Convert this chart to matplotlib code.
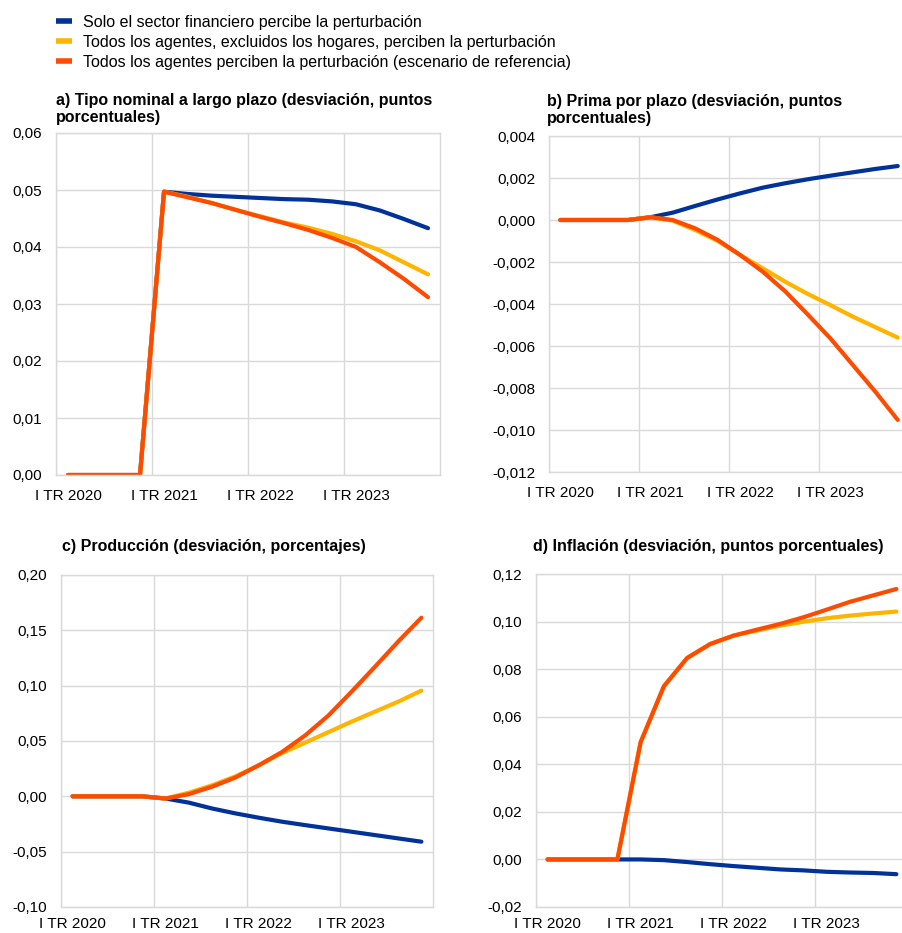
import matplotlib
matplotlib.use("Agg")
import matplotlib.pyplot as plt
from matplotlib.lines import Line2D
from matplotlib.ticker import FuncFormatter

plt.rcParams["font.family"] = ["Liberation Sans", "DejaVu Sans"]
plt.rcParams["font.size"] = 11

# Quarterly horizon: 2020 Q1 .. 2023 Q4
quarters = list(range(16))
year_labels = ["I TR 2020", "I TR 2021", "I TR 2022", "I TR 2023"]

series_names = [
    "Solo el sector financiero percibe la perturbación",
    "Todos los agentes, excluidos los hogares, perciben la perturbación",
    "Todos los agentes perciben la perturbación (escenario de referencia)",
]
colors = ["#003299", "#FFB400", "#FF4B00"]

# a) long-term nominal rate
rate_fin = [0, 0, 0, 0, 0.0497, 0.0493, 0.0490, 0.0488, 0.0486, 0.0484,
            0.0483, 0.0480, 0.0475, 0.0464, 0.0449, 0.0433]
rate_exh = [0, 0, 0, 0, 0.0497, 0.0488, 0.0477, 0.0465, 0.0454, 0.0443,
            0.0434, 0.0423, 0.0410, 0.0394, 0.0373, 0.0352]
rate_all = [0, 0, 0, 0, 0.0497, 0.0487, 0.0477, 0.0465, 0.0453, 0.0442,
            0.0430, 0.0416, 0.0400, 0.0373, 0.0344, 0.0312]

# b) term premium
prem_fin = [0, 0, 0, 0, 0.00013, 0.00035, 0.00067, 0.00098, 0.00127, 0.00154,
            0.00175, 0.00194, 0.00211, 0.00227, 0.00243, 0.00257]
prem_exh = [0, 0, 0, 0, 0.00013, -0.00003, -0.00048, -0.00100, -0.00167, -0.00230,
            -0.00294, -0.00352, -0.00405, -0.00460, -0.00510, -0.00560]
prem_all = [0, 0, 0, 0, 0.00013, 0.0, -0.00040, -0.00095, -0.00167, -0.00246,
            -0.00340, -0.00450, -0.00563, -0.00690, -0.00817, -0.00952]

# c) output
out_fin = [0, 0, 0, 0, -0.002, -0.0057, -0.011, -0.0154, -0.0193, -0.0229,
           -0.026, -0.029, -0.032, -0.035, -0.038, -0.041]
out_exh = [0, 0, 0, 0, -0.002, 0.0033, 0.010, 0.018, 0.028, 0.039,
           0.0485, 0.058, 0.0675, 0.0765, 0.0855, 0.0955]
out_all = [0, 0, 0, 0, -0.002, 0.002, 0.0087, 0.017, 0.028, 0.040,
           0.055, 0.073, 0.0946, 0.117, 0.1398, 0.1614]

# d) inflation
inf_fin = [0, 0, 0, 0, 0.0, -0.0003, -0.0011, -0.002, -0.0028, -0.0035,
           -0.0042, -0.0046, -0.0052, -0.0055, -0.0057, -0.0062]
inf_exh = [0, 0, 0, 0, 0.0493, 0.0728, 0.0847, 0.0906, 0.0941, 0.0962,
           0.0983, 0.0999, 0.1014, 0.1025, 0.1034, 0.1042]
inf_all = [0, 0, 0, 0, 0.0493, 0.0728, 0.0847, 0.0906, 0.0941, 0.0966,
           0.0990, 0.1018, 0.1050, 0.1083, 0.1110, 0.1137]

panels = [
    dict(title="a) Tipo nominal a largo plazo (desviación, puntos\nporcentuales)",
         data=[rate_fin, rate_exh, rate_all], ylim=(0, 0.06), step=0.01, dec=2,
         pos=[56, 133, 440, 475], title_xy=(56, 109), xpad=10),
    dict(title="b) Prima por plazo (desviación, puntos\nporcentuales)",
         data=[prem_fin, prem_exh, prem_all], ylim=(-0.012, 0.004), step=0.002, dec=3,
         pos=[549, 136, 909, 472], title_xy=(547, 110), xpad=10),
    dict(title="c) Producción (desviación, porcentajes)",
         data=[out_fin, out_exh, out_all], ylim=(-0.10, 0.20), step=0.05, dec=2,
         pos=[61, 575, 433, 907], title_xy=(62, 546), xpad=7),
    dict(title="d) Inflación (desviación, puntos porcentuales)",
         data=[inf_fin, inf_exh, inf_all], ylim=(-0.02, 0.12), step=0.02, dec=2,
         pos=[536, 574, 908, 907], title_xy=(533, 546), xpad=7),
]


def comma_fmt(dec):
    def fmt(v, _):
        if abs(v) < 1e-12:
            v = 0.0
        return f"{v:.{dec}f}".replace(".", ",")
    return FuncFormatter(fmt)


W, H = 903, 933
fig = plt.figure(figsize=(W / 100, H / 100), dpi=100)

for p in panels:
    x0, y0, x1, y1 = p["pos"]
    ax = fig.add_axes([x0 / W, 1 - y1 / H, (x1 - x0) / W, (y1 - y0) / H])
    # reference scenario is drawn last so it sits on top
    for vals, c in zip(p["data"], colors):
        ax.plot(quarters, vals, color=c, lw=3.0, solid_capstyle="round",
                solid_joinstyle="round")
    lo, hi = p["ylim"]
    ax.set_ylim(lo, hi)
    ax.set_xlim(-0.5, 15.5)
    n = int(round((hi - lo) / p["step"]))
    ax.set_yticks([lo + i * p["step"] for i in range(n + 1)])
    ax.yaxis.set_major_formatter(comma_fmt(p["dec"]))
    ax.set_xticks([0, 4, 8, 12])
    ax.set_xticklabels(year_labels)
    ax.set_xticks([-0.5, 3.5, 7.5, 11.5], minor=True)
    ax.grid(True, which="major", axis="y", color="#d9d9d9", lw=1)
    ax.grid(True, which="minor", axis="x", color="#d9d9d9", lw=1)
    ax.tick_params(which="both", length=0, labelsize=11, colors="black")
    ax.tick_params(axis="y", pad=10)
    ax.tick_params(axis="x", pad=p["xpad"])
    for s in ax.spines.values():
        s.set_color("#d9d9d9")
        s.set_linewidth(1)
    ax.set_axisbelow(True)
    tx, ty = p["title_xy"]
    fig.text(tx / W, 1 - ty / H, p["title"], fontsize=11.5, fontweight="bold",
             ha="left", va="center", linespacing=1.1)

handles = [Line2D([], [], color=c, lw=4, solid_capstyle="butt") for c in colors]
fig.legend(handles, series_names, loc="upper left", bbox_to_anchor=(56 / W, 1 - 15 / H),
           frameon=False, fontsize=11.5, handlelength=1.0, handletextpad=0.7,
           labelspacing=0.3, borderaxespad=0, borderpad=0)

fig.savefig("out.png", dpi=100)
